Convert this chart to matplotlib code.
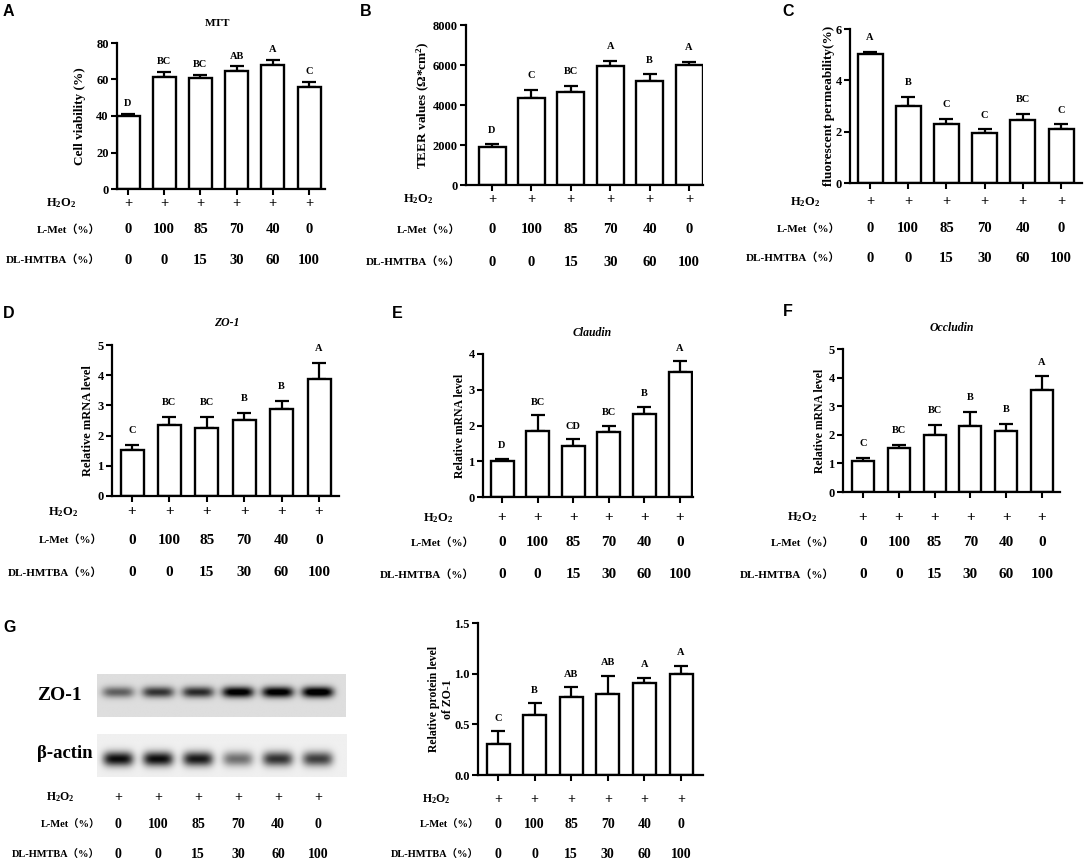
import matplotlib
matplotlib.use('Agg')
import matplotlib.pyplot as plt
import matplotlib.transforms as mtransforms
import numpy as np

W, H = 1084, 867
SERIF = ['Liberation Serif', 'Noto Sans CJK SC']

# treatment rows (same for every panel)
h2o2 = ['+', '+', '+', '+', '+', '+']
lmet = ['0', '100', '85', '70', '40', '0']
hmtba = ['0', '0', '15', '30', '60', '100']

# A  MTT
mtt_mean = [39.8, 61.4, 60.6, 64.8, 68.1, 56.1]
mtt_err = [1.5, 2.9, 1.9, 2.4, 2.6, 2.5]
mtt_sig = ['D', 'BC', 'BC', 'AB', 'A', 'C']

# B  TEER
teer_mean = [1917, 4333, 4667, 5950, 5183, 5983]
teer_err = [116, 417, 300, 250, 350, 184]
teer_sig = ['D', 'C', 'BC', 'A', 'B', 'A']

# C  fluorescent permeability
perm_mean = [5.03, 3.00, 2.28, 1.96, 2.45, 2.09]
perm_err = [0.07, 0.37, 0.22, 0.13, 0.25, 0.19]
perm_sig = ['A', 'B', 'C', 'C', 'BC', 'C']

# D  ZO-1 mRNA
zo1_mean = [1.52, 2.34, 2.24, 2.52, 2.87, 3.87]
zo1_err = [0.17, 0.29, 0.39, 0.23, 0.28, 0.53]
zo1_sig = ['C', 'BC', 'BC', 'B', 'B', 'A']

# E  Claudin mRNA
cld_mean = [1.02, 1.85, 1.44, 1.83, 2.32, 3.49]
cld_err = [0.05, 0.44, 0.17, 0.17, 0.21, 0.31]
cld_sig = ['D', 'BC', 'CD', 'BC', 'B', 'A']

# F  Occludin mRNA
ocl_mean = [1.09, 1.55, 2.01, 2.31, 2.14, 3.56]
ocl_err = [0.10, 0.10, 0.33, 0.48, 0.23, 0.48]
ocl_sig = ['C', 'BC', 'BC', 'B', 'B', 'A']

# G  ZO-1 protein
prot_mean = [0.31, 0.59, 0.77, 0.80, 0.91, 1.00]
prot_err = [0.12, 0.12, 0.10, 0.18, 0.05, 0.08]
prot_sig = ['C', 'B', 'AB', 'AB', 'A', 'A']

# western blot band darkness per lane
zo1_band = [0.5, 0.68, 0.72, 0.95, 0.95, 1.0]
actin_band = [0.9, 0.9, 0.85, 0.5, 0.75, 0.7]

plt.rcParams['font.family'] = SERIF
plt.rcParams['font.weight'] = 'bold'
plt.rcParams['mathtext.fontset'] = 'custom'
plt.rcParams['mathtext.rm'] = 'Liberation Serif:bold'
plt.rcParams['mathtext.bf'] = 'Liberation Serif:bold'
plt.rcParams['mathtext.it'] = 'Liberation Serif:bold:italic'
plt.rcParams['mathtext.default'] = 'bf'

fig = plt.figure(figsize=(W / 100, H / 100), dpi=100)


def fx(x):
    return x / W


def fy(y):
    return 1 - y / H


def bar_panel(mean, err, sig, box, ylim, yticks, bar_px=23, pad=6, ticklabels=None):
    axleft, axright, c0, c5, ytop, ybot = box
    s = (c5 - c0) / 5
    ax = fig.add_axes([fx(axleft), fy(ybot), (axright - axleft) / W, (ybot - ytop) / H])
    x = np.arange(len(mean))
    ax.errorbar(x, mean, yerr=[np.zeros(len(err)), err], fmt='none', ecolor='black',
                elinewidth=1.6, capsize=5, capthick=1.6, zorder=1)
    ax.bar(x, mean, width=bar_px / s, color='white', edgecolor='black', linewidth=1.7, zorder=2)
    for xi, m, e, t in zip(x, mean, err, sig):
        ax.annotate(t, (xi, m + e), xytext=(0, pad), textcoords='offset points',
                    ha='center', va='bottom', fontsize=7.5, fontweight='bold')
    ax.set_xlim((axleft - c0) / s, (axright - c0) / s)
    ax.set_ylim(*ylim)
    ax.set_yticks(yticks)
    if ticklabels:
        ax.set_yticklabels(ticklabels)
    ax.set_xticks(x)
    ax.set_xticklabels([])
    ax.tick_params(axis='both', direction='out', length=4, width=1.5, labelsize=9, pad=2)
    for sp in ['top', 'right']:
        ax.spines[sp].set_visible(False)
    for sp in ['left', 'bottom']:
        ax.spines[sp].set_linewidth(1.6)
    return ax


def rows(ax, ys, h2o2_x, label_right, lab_size=8, val_size=10.5):
    tr = mtransforms.blended_transform_factory(ax.transData, fig.transFigure)
    for vals, y in zip([h2o2, lmet, hmtba], ys):
        for i, v in enumerate(vals):
            ax.text(i, fy(y), v, transform=tr, ha='center', va='center',
                    fontsize=val_size, fontweight='bold')
    fig.text(fx(h2o2_x), fy(ys[0]), r'H$_2$O$_2$', ha='center', va='center', fontsize=lab_size + 1)
    fig.text(fx(label_right), fy(ys[1]), 'L-Met（%）', ha='right', va='center',
             fontsize=lab_size, fontweight='bold')
    fig.text(fx(label_right), fy(ys[2]), 'DL-HMTBA（%）', ha='right', va='center',
             fontsize=lab_size, fontweight='bold')


def ylab(x, box, text, size):
    yc = (box[4] + box[5]) / 2
    fig.text(fx(x), fy(yc), text, rotation=90, ha='center', va='center', fontsize=size,
             fontweight='bold', multialignment='center')


def panel_letter(x, y, t):
    fig.text(fx(x), fy(y), t, ha='left', va='center', fontsize=11.5, fontweight='bold',
             family='Liberation Sans')


# ---- A
box = (117, 325, 128, 309, 43, 189)
ax = bar_panel(mtt_mean, mtt_err, mtt_sig, box, (0, 80), [0, 20, 40, 60, 80], bar_px=23, pad=4)
ylab(80, box, 'Cell viability (%)', 9.5)
fig.text(fx(218), fy(23), 'MTT', ha='center', va='center', fontsize=8, fontweight='bold')
rows(ax, (203, 230, 260), 61, 100)
panel_letter(3, 12, 'A')

# ---- B
box = (466, 703, 492, 689, 25, 185)
ax = bar_panel(teer_mean, teer_err, teer_sig, box, (0, 8000), [0, 2000, 4000, 6000, 8000],
               bar_px=27, pad=7)
ylab(423, box, r'TEER values ($\Omega$*cm$^2$)', 9.5)
rows(ax, (199, 230, 262), 418, 460)
panel_letter(360, 12, 'B')

# ---- C
box = (850, 1082, 870, 1061, 29, 183)
ax = bar_panel(perm_mean, perm_err, perm_sig, box, (0, 6), [0, 2, 4, 6], bar_px=25, pad=7)
ylab(829, box, 'fluorescent permeability(%)', 9.5)
rows(ax, (202, 229, 258), 805, 840)
panel_letter(782, 12, 'C')

# ---- D
box = (112, 339, 132, 319, 345, 496)
ax = bar_panel(zo1_mean, zo1_err, zo1_sig, box, (0, 5), [0, 1, 2, 3, 4, 5], bar_px=23, pad=7)
ylab(88, box, 'Relative mRNA level', 9)
fig.text(fx(227), fy(323), 'ZO-1', ha='center', va='center', fontsize=8.5, fontweight='bold',
         style='italic')
rows(ax, (512, 540, 573), 63, 102, val_size=11)
panel_letter(3, 313, 'D')

# ---- E
box = (483, 693, 502, 680, 354, 497)
ax = bar_panel(cld_mean, cld_err, cld_sig, box, (0, 4), [0, 1, 2, 3, 4], bar_px=23, pad=6)
ylab(460, box, 'Relative mRNA level', 8.5)
fig.text(fx(592), fy(333), 'Claudin', ha='center', va='center', fontsize=8.5, fontweight='bold',
         style='italic')
rows(ax, (518, 543, 575), 438, 474, val_size=11)
panel_letter(392, 313, 'E')

# ---- F
box = (843, 1060, 863, 1042, 349, 492)
ax = bar_panel(ocl_mean, ocl_err, ocl_sig, box, (0, 5), [0, 1, 2, 3, 4, 5], bar_px=22, pad=7)
ylab(820, box, 'Relative mRNA level', 8.5)
fig.text(fx(952), fy(328), 'Occludin', ha='center', va='center', fontsize=8.5, fontweight='bold',
         style='italic')
rows(ax, (517, 543, 575), 802, 834, val_size=11)
panel_letter(783, 312, 'F')

# ---- G chart
box = (478, 703, 498, 681, 623, 775)
ax = bar_panel(prot_mean, prot_err, prot_sig, box, (0, 1.5), [0, 0.5, 1.0, 1.5], bar_px=23, pad=6,
               ticklabels=['0.0', '0.5', '1.0', '1.5'])
ylab(441, box, 'Relative protein level\nof ZO-1', 8.5)
rows(ax, (799, 825, 855), 436, 479, lab_size=7.5, val_size=10)
panel_letter(3, 627, 'G')


# ---- G blot
def blot(box, dark, bg, cy, bh, bw):
    x0, x1, y0, y1, c0, s = box
    xl, xr = (x0 - c0) / s, (x1 - c0) / s
    bax = fig.add_axes([fx(x0), fy(y1), (x1 - x0) / W, (y1 - y0) / H])
    xs = np.linspace(xl, xr, 300)
    ys = np.linspace(0, 1, 60)
    X, Y = np.meshgrid(xs, ys)
    img = np.full_like(X, bg)
    for i, k in enumerate(dark):
        img -= k * np.exp(-((X - i) / bw) ** 4) * np.exp(-((Y - cy) / bh) ** 2)
    bax.imshow(np.clip(img, 0, 1), cmap='gray', vmin=0, vmax=1, extent=(xl, xr, 0, 1),
               origin='lower', aspect='auto', interpolation='bilinear')
    bax.set_xlim(xl, xr)
    bax.set_ylim(0, 1)
    bax.axis('off')
    return bax


bax = blot((97, 346, 674, 717, 118, 40), zo1_band, 0.87, 0.58, 0.13, 0.4)
blot((97, 347, 734, 777, 118, 40), actin_band, 0.94, 0.42, 0.17, 0.38)
fig.text(fx(37), fy(695), 'ZO-1', ha='left', va='center', fontsize=14, fontweight='bold')
fig.text(fx(37), fy(753), 'β-actin', ha='left', va='center', fontsize=13.5, fontweight='bold')
rows(bax, (797, 825, 855), 60, 100, lab_size=7.5, val_size=10)

fig.savefig('out.png', dpi=100)
